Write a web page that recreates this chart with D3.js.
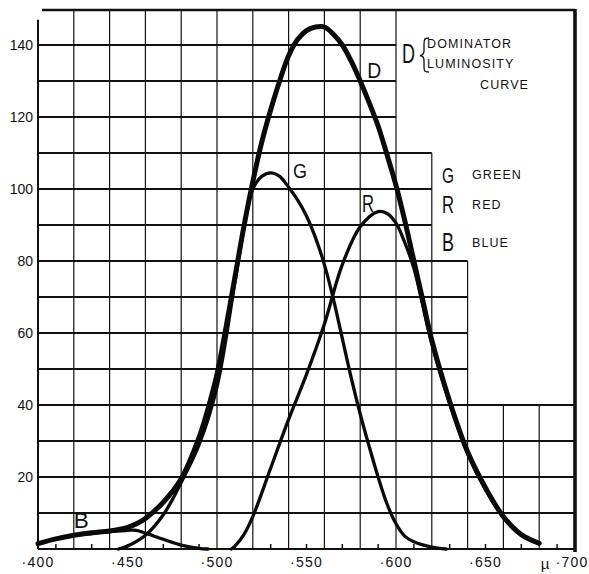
<!DOCTYPE html>
<html>
<head>
<meta charset="utf-8">
<title>Dominator luminosity curve</title>
<script src="https://cdn.jsdelivr.net/npm/d3@7"></script>
<style type="text/css">
body { margin: 0; background: #fff; }
svg { display: block; }
text { font-family: "Liberation Sans", Arial, sans-serif; fill: #111; }
</style>
</head>
<body>
<div id="chart"></div>
<script type="text/javascript">
/* values: wavelength in m-mu, response */
var dWave = [400,410,420,430,440,450,455,460,470,480,490,495,500,505,510,515,520,525,530,535,540,545,550,555,560,565,570,575,580,585,590,595,600,605,610,615,620,630,640,650,660,670,680];
var dVal  = [1.5,2.8,3.8,4.5,5.0,6.0,7.0,8.5,13,19.5,31,39,48.5,61.5,75.5,89.5,102,113,122,130,137,141.5,144,145,145,143,140,135.5,130,124,117.5,109.5,101,91,80,69,58,41,27,17,9,4,1.6];

var gWave = [445,450,460,470,480,490,500,510,515,520,525,530,535,540,545,550,555,560,565,570,575,580,585,590,595,600,605,610,620,628];
var gVal  = [0,0.8,3.8,9.5,18.5,29,45,74,89,100,103.5,104.5,103.5,100.5,97,92.5,86.5,79,69.5,58.5,47.5,37.5,28.5,20,12.5,7,3.5,2,0.5,0];

var rWave = [508,510,515,520,530,540,550,560,570,580,590,595,600,605,610,620,630,640,650,660,670,680];
var rVal  = [0,0.8,4,9,22.5,36,48.5,62.5,79,89.5,93.7,93.2,90.5,85,78,57,40.5,26.5,16.5,8.8,4,1.4];

var bWave = [400,410,420,430,440,450,455,460,470,480,490,495];
var bVal  = [1.5,2.8,3.7,4.3,4.8,5.2,5.2,4.4,2.7,1.1,0.2,0];

var xLabels = [400,450,500,550,600,650,700];
var yLabels = [20,40,60,80,100,120,140];
var gridRows = d3.range(10,150,10);
var gridCols = d3.range(420,700,20);
var minorTicks = d3.range(410,700,20);
// stepped outline of the printed grid
var stepX = [600,620,640,700];
var stepY = [150,110,80,40];

var width = 589, height = 574;
var svg = d3.select("#chart").append("svg").attr("width", width).attr("height", height);

var x = d3.scaleLinear().domain([400,700]).range([38,575]);
var y = d3.scaleLinear().domain([0,150]).range([549,9]);

function rowEnd(v) {
  var e = stepX[0];
  stepY.forEach(function(s, i) { if (s >= v) e = stepX[i]; });
  return e;
}
function colTop(w) {
  for (var i = 0; i < stepX.length; i++) if (stepX[i] >= w) return stepY[i];
  return 40;
}

var grid = svg.append("g").attr("stroke", "#111").attr("fill", "none");
grid.selectAll("line.row").data(gridRows).enter().append("line")
  .attr("class", "row")
  .attr("x1", x(400)).attr("x2", function(d) { return x(rowEnd(d)); })
  .attr("y1", function(d) { return y(d); }).attr("y2", function(d) { return y(d); })
  .attr("stroke-width", 1.8);
grid.selectAll("line.col").data(gridCols).enter().append("line")
  .attr("class", "col")
  .attr("x1", function(d) { return x(d); }).attr("x2", function(d) { return x(d); })
  .attr("y1", function(d) { return y(colTop(d)); }).attr("y2", y(0))
  .attr("stroke-width", 1.2);

/* frame */
grid.append("line").attr("x1", x(400) + 4).attr("x2", x(700)).attr("y1", y(150) + 1).attr("y2", y(150) + 1).attr("stroke-width", 2.6);
grid.append("line").attr("x1", x(400)).attr("x2", x(400)).attr("y1", y(147)).attr("y2", y(0)).attr("stroke-width", 2);
grid.append("line").attr("x1", x(400)).attr("x2", x(700)).attr("y1", y(0)).attr("y2", y(0)).attr("stroke-width", 2);
grid.append("line").attr("x1", x(700)).attr("x2", x(700)).attr("y1", y(150)).attr("y2", y(0) + 3).attr("stroke-width", 3.6);

grid.selectAll("line.tick").data(minorTicks).enter().append("line")
  .attr("class", "tick")
  .attr("x1", function(d) { return x(d); }).attr("x2", function(d) { return x(d); })
  .attr("y1", y(0)).attr("y2", y(0) - 5)
  .attr("stroke-width", 1.5);

/* axis labels */
svg.selectAll("text.ylab").data(yLabels).enter().append("text")
  .attr("class", "ylab")
  .attr("x", 33).attr("y", function(d) { return y(d); })
  .attr("dy", "0.36em").attr("text-anchor", "end")
  .attr("font-size", 14)
  .text(function(d) { return d; });

svg.selectAll("text.xlab").data(xLabels).enter().append("text")
  .attr("class", "xlab")
  .attr("x", function(d) { return x(d) - (d === 700 ? 3 : 0); }).attr("y", 567)
  .attr("text-anchor", "middle").attr("font-size", 14)
  .attr("letter-spacing", 1.2)
  .text(function(d) { return "\u00b7" + d; });
svg.append("text").attr("x", x(700) - 30).attr("y", 569).attr("text-anchor", "middle")
  .attr("font-size", 15).text("\u00b5");

/* curves */
var line = d3.line()
  .x(function(d) { return x(d[0]); })
  .y(function(d) { return y(d[1]); })
  .curve(d3.curveCatmullRom.alpha(0.5));

var series = [
  { w: bWave, v: bVal, sw: 3.3 },
  { w: gWave, v: gVal, sw: 3.3 },
  { w: rWave, v: rVal, sw: 3.3 },
  { w: dWave, v: dVal, sw: 5 }
];
svg.selectAll("path.curve").data(series).enter().append("path")
  .attr("class", "curve")
  .attr("fill", "none").attr("stroke", "#0a0a0a")
  .attr("stroke-linecap", "round")
  .attr("stroke-linejoin", "round")
  .attr("stroke-width", function(d) { return d.sw; })
  .attr("d", function(d) { return line(d3.zip(d.w, d.v)); });

/* letters on curves */
var curveTags = [
  { t: "D", w: 584, v: 130.8, fs: 22, len: 14 },
  { t: "G", w: 542.5, v: 103, fs: 21, len: 14 },
  { t: "R", w: 581, v: 93.6, fs: 23, len: 12 },
  { t: "B", w: 420, v: 5.8, fs: 22, len: 15 }
];
svg.selectAll("text.tag").data(curveTags).enter().append("text")
  .attr("class", "tag")
  .attr("x", function(d) { return x(d.w); }).attr("y", function(d) { return y(d.v); })
  .attr("font-size", function(d) { return d.fs; })
  .attr("textLength", function(d) { return d.len; })
  .attr("lengthAdjust", "spacingAndGlyphs")
  .text(function(d) { return d.t; });

/* key */
svg.append("text").attr("x", 402).attr("y", 63).attr("font-size", 28)
  .attr("textLength", 13).attr("lengthAdjust", "spacingAndGlyphs").text("D");
svg.append("path")
  .attr("d", "M429,38 C424,38 424,40 424,45 L424,51 C424,54 423,55 420,55.5 C423,56 424,57 424,60 L424,66 C424,71 424,72 429,72")
  .attr("fill", "none").attr("stroke", "#111").attr("stroke-width", 1.3);
var keyText = [
  { t: "DOMINATOR", x: 427, y: 48 },
  { t: "LUMINOSITY", x: 427, y: 68 },
  { t: "CURVE", x: 480, y: 89 }
];
svg.selectAll("text.key").data(keyText).enter().append("text")
  .attr("class", "key")
  .attr("x", function(d) { return d.x; }).attr("y", function(d) { return d.y; })
  .attr("font-size", 12.5).attr("letter-spacing", 1.1)
  .text(function(d) { return d.t; });

var legend = [
  { k: "G", name: "GREEN", y: 183, fs: 22 },
  { k: "R", name: "RED", y: 213, fs: 23 },
  { k: "B", name: "BLUE", y: 251, fs: 25 }
];
var lg = svg.selectAll("g.leg").data(legend).enter().append("g").attr("class", "leg");
lg.append("text").attr("x", 442).attr("y", function(d) { return d.y; })
  .attr("font-size", function(d) { return d.fs; })
  .attr("textLength", 12).attr("lengthAdjust", "spacingAndGlyphs")
  .text(function(d) { return d.k; });
lg.append("text").attr("x", 472).attr("y", function(d) { return d.y - 4; })
  .attr("font-size", 12.5).attr("letter-spacing", 1.1)
  .text(function(d) { return d.name; });
</script>
</body>
</html>
